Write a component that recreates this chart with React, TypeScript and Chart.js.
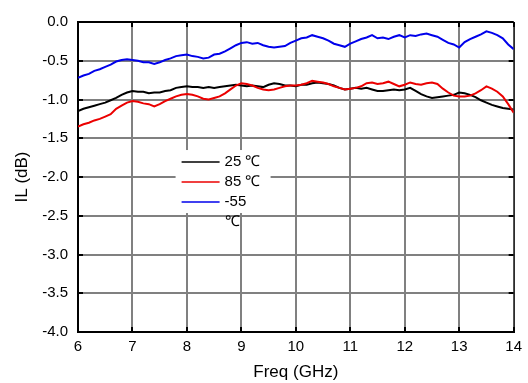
import { useEffect, useRef } from 'react';
import { Chart, registerables } from 'chart.js';

Chart.register(...registerables);

const freqGHz = [
  6.0, 6.1, 6.2, 6.3, 6.4, 6.5, 6.6, 6.7, 6.8, 6.9,
  7.0, 7.1, 7.2, 7.3, 7.4, 7.5, 7.6, 7.7, 7.8, 7.9,
  8.0, 8.1, 8.2, 8.3, 8.4, 8.5, 8.6, 8.7, 8.8, 8.9,
  9.0, 9.1, 9.2, 9.3, 9.4, 9.5, 9.6, 9.7, 9.8, 9.9,
  10.0, 10.1, 10.2, 10.3, 10.4, 10.5, 10.6, 10.7, 10.8, 10.9,
  11.0, 11.1, 11.2, 11.3, 11.4, 11.5, 11.6, 11.7, 11.8, 11.9,
  12.0, 12.1, 12.2, 12.3, 12.4, 12.5, 12.6, 12.7, 12.8, 12.9,
  13.0, 13.1, 13.2, 13.3, 13.4, 13.5, 13.6, 13.7, 13.8, 13.9,
  14.0,
];

const il25C = [
  -1.15, -1.12, -1.10, -1.08, -1.06, -1.04, -1.01, -0.98, -0.94, -0.91,
  -0.89, -0.90, -0.90, -0.92, -0.91, -0.91, -0.89, -0.88, -0.85, -0.84,
  -0.83, -0.84, -0.84, -0.85, -0.84, -0.85, -0.84, -0.83, -0.82, -0.81,
  -0.82, -0.83, -0.82, -0.83, -0.84, -0.81, -0.79, -0.80, -0.82, -0.82,
  -0.83, -0.81, -0.81, -0.79, -0.78, -0.79, -0.80, -0.82, -0.85, -0.87,
  -0.86, -0.85, -0.86, -0.85, -0.87, -0.89, -0.89, -0.88, -0.87, -0.88,
  -0.87, -0.85, -0.89, -0.93, -0.96, -0.98, -0.97, -0.96, -0.95, -0.94,
  -0.91, -0.92, -0.94, -0.97, -1.01, -1.04, -1.07, -1.09, -1.11, -1.12,
  -1.13,
];

const il85C = [
  -1.35, -1.32, -1.30, -1.27, -1.25, -1.22, -1.19, -1.12, -1.08, -1.04,
  -1.02, -1.03, -1.05, -1.06, -1.09, -1.06, -1.02, -0.99, -0.96, -0.94,
  -0.93, -0.94, -0.96, -0.99, -1.00, -0.98, -0.96, -0.92, -0.87, -0.82,
  -0.79, -0.80, -0.82, -0.85, -0.87, -0.88, -0.87, -0.85, -0.83, -0.82,
  -0.82, -0.81, -0.79, -0.76, -0.77, -0.78, -0.80, -0.83, -0.85, -0.87,
  -0.86, -0.85, -0.83, -0.79, -0.78, -0.80, -0.79, -0.77, -0.80, -0.83,
  -0.81, -0.78, -0.80, -0.81, -0.79, -0.78, -0.80, -0.86, -0.91, -0.95,
  -0.96, -0.96, -0.95, -0.92, -0.88, -0.83, -0.86, -0.90, -0.96, -1.06,
  -1.17,
];

const ilMinus55C = [
  -0.72, -0.69, -0.67, -0.63, -0.61, -0.58, -0.55, -0.51, -0.49, -0.48,
  -0.49, -0.50, -0.52, -0.52, -0.54, -0.52, -0.49, -0.47, -0.44, -0.43,
  -0.42, -0.44, -0.45, -0.47, -0.46, -0.42, -0.41, -0.38, -0.34, -0.30,
  -0.27, -0.26, -0.28, -0.27, -0.30, -0.32, -0.33, -0.32, -0.31, -0.27,
  -0.24, -0.21, -0.20, -0.17, -0.19, -0.21, -0.24, -0.28, -0.30, -0.32,
  -0.28, -0.25, -0.22, -0.20, -0.17, -0.21, -0.20, -0.22, -0.19, -0.17,
  -0.20, -0.17, -0.18, -0.16, -0.15, -0.17, -0.19, -0.23, -0.27, -0.29,
  -0.33, -0.26, -0.22, -0.19, -0.16, -0.12, -0.14, -0.17, -0.21, -0.29,
  -0.35,
];

const seriesLabels = ['25 ℃', '85 ℃', '-55 ℃'];
const seriesColors = ['#000000', 'rgb(235,0,0)', 'rgb(0,0,235)'];

const xMin = 6;
const xMax = 14;
const xStep = 1;
const yMin = -4;
const yMax = 0;
const yStep = 0.5;

const FONT = 'Arial, "Liberation Sans", sans-serif';

function wrapText(ctx: CanvasRenderingContext2D, text: string, maxW: number): string[] {
  const words = text.split(' ');
  const lines: string[] = [];
  let cur = '';
  for (const w of words) {
    const test = cur ? cur + ' ' + w : w;
    if (cur && ctx.measureText(test).width > maxW) {
      lines.push(cur);
      cur = w;
    } else {
      cur = test;
    }
  }
  if (cur) lines.push(cur);
  return lines;
}

function drawLegend(chart: any) {
  const ctx = chart.ctx;
  const a = chart.chartArea;
  const w = a.right - a.left;
  const h = a.bottom - a.top;
  const bx = a.left + w * 0.224;
  const by = a.top + h * 0.413;
  const bw = 95;
  const bh = 63;
  ctx.save();
  ctx.fillStyle = '#ffffff';
  ctx.fillRect(bx, by, bw, bh);
  ctx.font = '15px ' + FONT;
  ctx.textBaseline = 'middle';
  ctx.textAlign = 'left';
  let rowY = by + 12;
  chart.data.datasets.forEach((ds: any) => {
    ctx.strokeStyle = ds.borderColor;
    ctx.lineWidth = 1.5;
    ctx.beginPath();
    ctx.moveTo(bx + 6, rowY);
    ctx.lineTo(bx + 44, rowY);
    ctx.stroke();
    ctx.fillStyle = '#000';
    const lines = wrapText(ctx, ds.label, 38);
    lines.forEach((ln, i) => ctx.fillText(ln, bx + 49, rowY + i * 20));
    rowY += 20;
  });
  ctx.restore();
}

function drawFrame(chart: any) {
  const ctx = chart.ctx;
  const a = chart.chartArea;
  const xs = chart.scales['x'];
  const ys = chart.scales['y'];
  ctx.save();
  ctx.strokeStyle = 'rgb(0,0,0)';
  ctx.lineWidth = 2;
  ctx.beginPath();
  for (let v = xMin; v <= xMax; v += xStep) {
    const px = Math.round(xs.getPixelForValue(v));
    ctx.moveTo(px, a.top);
    ctx.lineTo(px, a.top + 5);
    ctx.moveTo(px, a.bottom);
    ctx.lineTo(px, a.bottom - 5);
  }
  for (let v = yMin; v <= yMax + 1e-9; v += yStep) {
    const py = Math.round(ys.getPixelForValue(v));
    ctx.moveTo(a.left, py);
    ctx.lineTo(a.left + 5, py);
    ctx.moveTo(a.right, py);
    ctx.lineTo(a.right - 5, py);
  }
  ctx.moveTo(a.left, a.top);
  ctx.lineTo(a.right, a.top);
  ctx.moveTo(a.left, a.top);
  ctx.lineTo(a.left, a.bottom);
  ctx.lineTo(a.right, a.bottom);
  ctx.stroke();
  ctx.lineWidth = 1;
  ctx.beginPath();
  ctx.moveTo(a.right + 0.5, a.top);
  ctx.lineTo(a.right + 0.5, a.bottom);
  ctx.stroke();
  ctx.restore();
}

const chartDecor = {
  id: 'chartDecor',
  beforeDatasetsDraw(chart: any) {
    drawLegend(chart);
    drawFrame(chart);
  },
};

export default function App() {
  const canvasRef = useRef<HTMLCanvasElement | null>(null);

  useEffect(() => {
    const canvas = canvasRef.current;
    if (!canvas) return;
    const series = [il25C, il85C, ilMinus55C];
    const chart = new Chart(canvas, {
      type: 'line',
      data: {
        datasets: series.map((vals, i) => ({
          label: seriesLabels[i],
          data: freqGHz.map((f, j) => ({ x: f, y: vals[j] })),
          borderColor: seriesColors[i],
          backgroundColor: seriesColors[i],
          borderWidth: 2,
          pointRadius: 0,
          tension: 0,
          order: i === 1 ? 0 : i === 0 ? 1 : 2,
        })),
      },
      options: {
        animation: false,
        responsive: false,
        devicePixelRatio: 1,
        layout: { padding: { top: 22, right: 8, left: 0, bottom: 0 } },
        plugins: {
          legend: { display: false },
          tooltip: { enabled: false },
        },
        scales: {
          x: {
            type: 'linear',
            min: xMin,
            max: xMax,
            ticks: {
              stepSize: xStep,
              color: '#000',
              padding: 6,
              font: { family: FONT, size: 15 },
              callback: (v: any) => String(v),
            },
            grid: { color: '#808080', lineWidth: 2, drawTicks: false },
            border: { display: true, color: '#000000', width: 2 },
            title: {
              display: true,
              text: 'Freq (GHz)',
              color: '#000',
              font: { family: FONT, size: 17 },
              padding: { top: 0, bottom: 0 },
            },
            afterFit: (s: any) => {
              s.height = 51;
            },
          },
          y: {
            type: 'linear',
            min: yMin,
            max: yMax,
            ticks: {
              stepSize: yStep,
              color: '#000',
              padding: 10,
              font: { family: FONT, size: 15 },
              callback: (v: any) => Number(v).toFixed(1),
            },
            grid: { color: '#808080', lineWidth: 2, drawTicks: false },
            border: { display: true, color: '#000000', width: 2 },
            title: {
              display: true,
              text: 'IL (dB)',
              color: '#000',
              font: { family: FONT, size: 17 },
              padding: { top: 12, bottom: 0 },
            },
            afterFit: (s: any) => {
              s.width = 78;
            },
          },
        },
      },
      plugins: [chartDecor],
    });
    return () => chart.destroy();
  }, []);

  return (
    <canvas
      ref={canvasRef}
      width={528}
      height={383}
      style={{ position: 'absolute', left: 0, top: 0, width: 528, height: 383 }}
    />
  );
}
